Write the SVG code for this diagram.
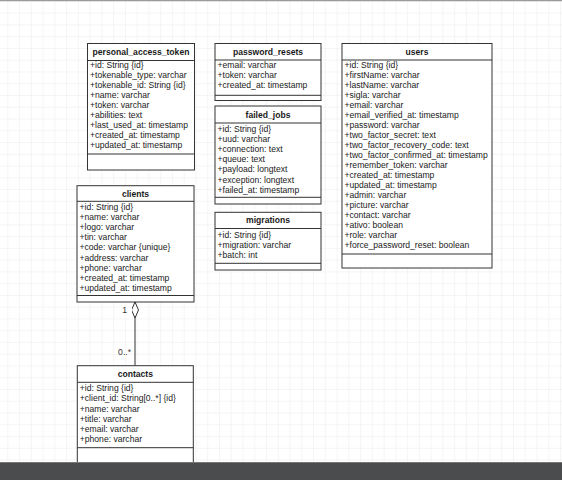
<svg xmlns="http://www.w3.org/2000/svg" width="562" height="480" viewBox="0 0 562 480">
<style>
.box{fill:#fff;stroke:#333;stroke-width:1}
.sep{stroke:#333;stroke-width:1;fill:none}
.t{font-family:"Liberation Sans",Arial,sans-serif;font-size:8.58px;fill:#1a1a1a}
.h{font-family:"Liberation Sans",Arial,sans-serif;font-size:8.58px;font-weight:bold;fill:#1a1a1a;text-anchor:middle}
.lbl{font-family:"Liberation Sans",Arial,sans-serif;font-size:8.58px;fill:#333;text-anchor:end}
.edge{stroke:#333;stroke-width:1;fill:none}
</style>
<defs>
<pattern id="grid" patternUnits="userSpaceOnUse" x="7.3" y="0.9" width="11.76" height="11.76">
<path d="M0 0 H11.76 M0 0 V11.76" stroke="#ececec" stroke-width="1" fill="none"/>
</pattern>
<marker id="diamond" viewBox="0 0 16 7" refX="16" refY="3.5" markerWidth="16" markerHeight="7" markerUnits="userSpaceOnUse" orient="auto">
<path d="M0 3.5 L8 0 L16 3.5 L8 7 Z" fill="#fff" stroke="#333" stroke-width="1"/>
</marker>
</defs>
<rect x="0" y="0" width="562" height="480" fill="#fff"/>
<rect x="0" y="0" width="562" height="462" fill="url(#grid)"/>
<rect x="0" y="0" width="562" height="1.2" fill="#9a9a9a"/>

<g id="connectors">
<path class="edge" d="M135 365.7 V302" marker-end="url(#diamond)"/>
<text class="lbl" x="127" y="313">1</text>
<text class="lbl" x="131" y="355.3">0..*</text>
</g>

<g id="personal_access_token">
<rect class="box" x="87.5" y="43.5" width="107" height="126.5"/>
<path class="sep" d="M87.5 60.5 H194.5 M87.5 154 H194.5"/>
<text class="h" x="141" y="55">personal_access_token</text>
<text class="t" x="90" y="67.7">+id: String {id}</text>
<text class="t" x="90" y="77.8">+tokenable_type: varchar</text>
<text class="t" x="90" y="87.8">+tokenable_id: String {id}</text>
<text class="t" x="90" y="97.9">+name: varchar</text>
<text class="t" x="90" y="107.9">+token: varchar</text>
<text class="t" x="90" y="118">+abilities: text</text>
<text class="t" x="90" y="128.1">+last_used_at: timestamp</text>
<text class="t" x="90" y="138.1">+created_at: timestamp</text>
<text class="t" x="90" y="148.2">+updated_at: timestamp</text>
</g>

<g id="password_resets">
<rect class="box" x="215" y="43.5" width="106" height="57"/>
<path class="sep" d="M215 60 H321 M215 95.3 H321"/>
<text class="h" x="268" y="55">password_resets</text>
<text class="t" x="217.5" y="67.7">+email: varchar</text>
<text class="t" x="217.5" y="77.8">+token: varchar</text>
<text class="t" x="217.5" y="87.9">+created_at: timestamp</text>
</g>

<g id="failed_jobs">
<rect class="box" x="215" y="106" width="106" height="98"/>
<path class="sep" d="M215 123 H321 M215 197.3 H321"/>
<text class="h" x="268" y="117.6">failed_jobs</text>
<text class="t" x="217.5" y="132">+id: String {id}</text>
<text class="t" x="217.5" y="142.1">+uud: varchar</text>
<text class="t" x="217.5" y="152.2">+connection: text</text>
<text class="t" x="217.5" y="162.3">+queue: text</text>
<text class="t" x="217.5" y="172.4">+payload: longtext</text>
<text class="t" x="217.5" y="182.5">+exception: longtext</text>
<text class="t" x="217.5" y="192.6">+failed_at: timestamp</text>
</g>

<g id="migrations">
<rect class="box" x="215" y="212.3" width="106" height="57.7"/>
<path class="sep" d="M215 228.5 H321 M215 263.3 H321"/>
<text class="h" x="268" y="223.4">migrations</text>
<text class="t" x="217.5" y="238.4">+id: String {id}</text>
<text class="t" x="217.5" y="248.4">+migration: varchar</text>
<text class="t" x="217.5" y="258.4">+batch: int</text>
</g>

<g id="users">
<rect class="box" x="342" y="43.5" width="150" height="224.5"/>
<path class="sep" d="M342 60 H492 M342 254 H492"/>
<text class="h" x="417" y="55">users</text>
<text class="t" x="344.5" y="67.7">+id: String {id}</text>
<text class="t" x="344.5" y="77.7">+firstName: varchar</text>
<text class="t" x="344.5" y="87.7">+lastName: varchar</text>
<text class="t" x="344.5" y="97.7">+sigla: varchar</text>
<text class="t" x="344.5" y="107.7">+email: varchar</text>
<text class="t" x="344.5" y="117.7">+email_verified_at: timestamp</text>
<text class="t" x="344.5" y="127.7">+password: varchar</text>
<text class="t" x="344.5" y="137.7">+two_factor_secret: text</text>
<text class="t" x="344.5" y="147.7">+two_factor_recovery_code: text</text>
<text class="t" x="344.5" y="157.7">+two_factor_confirmed_at: timestamp</text>
<text class="t" x="344.5" y="167.7">+remember_token: varchar</text>
<text class="t" x="344.5" y="177.7">+created_at: timestamp</text>
<text class="t" x="344.5" y="187.7">+updated_at: timestamp</text>
<text class="t" x="344.5" y="197.7">+admin: varchar</text>
<text class="t" x="344.5" y="207.7">+picture: varchar</text>
<text class="t" x="344.5" y="217.7">+contact: varchar</text>
<text class="t" x="344.5" y="227.7">+ativo: boolean</text>
<text class="t" x="344.5" y="237.7">+role: varchar</text>
<text class="t" x="344.5" y="247.7">+force_password_reset: boolean</text>
</g>

<g id="clients">
<rect class="box" x="77" y="185.7" width="117" height="116.3"/>
<path class="sep" d="M77 201.3 H194 M77 295.5 H194"/>
<text class="h" x="135.5" y="196.8">clients</text>
<text class="t" x="79.5" y="210">+id: String {id}</text>
<text class="t" x="79.5" y="220.1">+name: varchar</text>
<text class="t" x="79.5" y="230.2">+logo: varchar</text>
<text class="t" x="79.5" y="240.3">+tin: varchar</text>
<text class="t" x="79.5" y="250.4">+code: varchar {unique}</text>
<text class="t" x="79.5" y="260.5">+address: varchar</text>
<text class="t" x="79.5" y="270.6">+phone: varchar</text>
<text class="t" x="79.5" y="280.7">+created_at: timestamp</text>
<text class="t" x="79.5" y="290.8">+updated_at: timestamp</text>
</g>

<g id="contacts">
<rect class="box" x="77.3" y="365.7" width="116" height="110"/>
<path class="sep" d="M77.3 382.3 H193.3 M77.3 447.7 H193.3"/>
<text class="h" x="135.3" y="377.2">contacts</text>
<text class="t" x="79.8" y="391.3">+id: String {id}</text>
<text class="t" x="79.8" y="401.4">+client_id: String[0..*] {id}</text>
<text class="t" x="79.8" y="411.5">+name: varchar</text>
<text class="t" x="79.8" y="421.6">+title: varchar</text>
<text class="t" x="79.8" y="431.7">+email: varchar</text>
<text class="t" x="79.8" y="441.8">+phone: varchar</text>
</g>

<rect x="0" y="462" width="562" height="18" fill="#4b4c4e"/>
<rect x="0" y="462" width="562" height="1" fill="#777"/>
</svg>
